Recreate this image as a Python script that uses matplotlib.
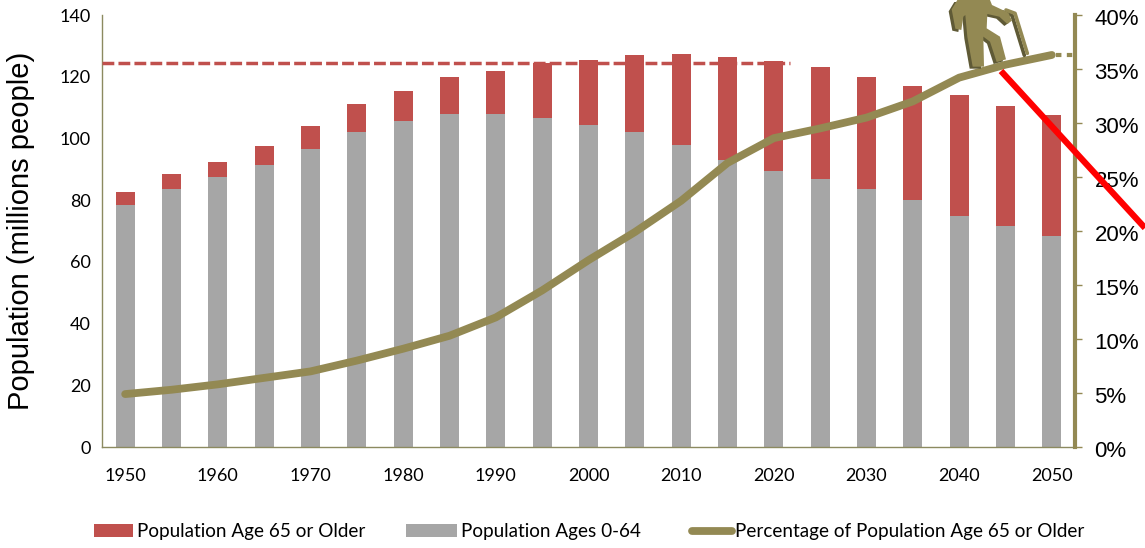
import matplotlib
matplotlib.use("Agg")
import matplotlib.pyplot as plt
from matplotlib.lines import Line2D
from matplotlib.patches import Polygon, Rectangle
from matplotlib.transforms import ScaledTranslation

years = list(range(1950, 2051, 5))
under_65 = [78.5, 83.5, 87.5, 91.5, 96.5, 102, 105.5, 108, 108, 106.5, 104.5,
            102, 98, 93, 89.5, 87, 83.5, 80, 75, 71.5, 68.5]
total = [82.5, 88.5, 92.5, 97.5, 104, 111, 115.5, 120, 122, 124.5, 125.5,
         127, 127.5, 126.5, 125, 123, 120, 117, 114, 110.5, 107.5]
pct_65 = [4.9, 5.3, 5.8, 6.4, 7.0, 8.0, 9.1, 10.3, 12.0, 14.5, 17.3,
          19.9, 22.8, 26.3, 28.6, 29.5, 30.5, 32.0, 34.2, 35.4, 36.3]
over_65 = [t - u for t, u in zip(total, under_65)]
peak_level = 124.5
legend_labels = ["Population Age 65 or Older", "Population Ages 0-64",
                 "Percentage of Population Age 65 or Older"]

RED, GRAY, OLIVE = "#C0504D", "#A6A6A6", "#938953"
SHADOW = "#5F5A36"
W, H = 1145, 548
LAT = ["Lato", "DejaVu Sans"]
ARI = ["Liberation Sans", "DejaVu Sans"]

fig = plt.figure(figsize=(W / 100, H / 100), dpi=100)
ax = fig.add_axes([102 / W, 1 - 447 / H, (1075 - 102) / W, 432 / H])
x = list(range(len(years)))
ax.bar(x, under_65, width=0.41, color=GRAY, zorder=2)
ax.bar(x, over_65, bottom=under_65, width=0.41, color=RED, zorder=2)
ax.set_xlim(-0.5, 20.5)
ax.set_ylim(0, 140)
ax.set_xticks(x[::2])
ax.set_xticklabels(years[::2], family=LAT, fontsize=13)
ax.set_yticks(range(0, 141, 20))
ax.tick_params(axis="x", length=0, pad=15)
ax.tick_params(axis="y", length=0, pad=8, labelsize=13)
for t in ax.get_yticklabels():
    t.set_family(LAT)
for s in ("top", "right"):
    ax.spines[s].set_visible(False)
for s in ("left", "bottom"):
    ax.spines[s].set_color("#8C8A60")
    ax.spines[s].set_linewidth(1)
ax.set_ylabel("Population (millions people)", family=ARI, fontsize=21)
ax.yaxis.set_label_coords(-67 / 973, 0.5)
ax.plot([-0.5, 14.35], [peak_level, peak_level], color=RED, lw=2.5,
        dashes=(3.4, 1.2), zorder=3)

ax2 = ax.twinx()
ax2.set_ylim(0, 40)
ax2.set_yticks(range(0, 41, 5))
ax2.set_yticklabels([f"{v}%" for v in range(0, 41, 5)], family=ARI, fontsize=16)
ax2.tick_params(axis="y", length=5, width=1, color=OLIVE, pad=9, direction="out")
shift = ScaledTranslation(0, -2 / 100, fig.dpi_scale_trans)
for t in ax2.get_yticklabels():
    t.set_transform(t.get_transform() + shift)
for s in ("top", "left", "bottom"):
    ax2.spines[s].set_visible(False)
ax2.spines["right"].set_color(OLIVE)
ax2.spines["right"].set_linewidth(3)
ax2.set_zorder(ax.get_zorder() + 1)
ax2.patch.set_visible(False)
ax2.plot(x, pct_65, color=OLIVE, lw=5.6, solid_capstyle="round", solid_joinstyle="round", zorder=4)
ax2.plot([x[-1] + 0.1, 20.45], [pct_65[-1], pct_65[-1]], color=OLIVE, lw=3,
         dashes=(1.3, 1.3), zorder=4)


def zpx(points, dx=0, dy=0):
    """Points read in the 3x crop whose corner is (900, 0), as figure fractions."""
    return [((900 + a / 3 + dx) / W, 1 - (b / 3 + dy) / H) for a, b in points]


body = [(172, 0), (270, 0), (276, 15), (325, 38), (336, 62), (322, 72), (298, 50),
        (262, 42), (260, 85), (300, 110), (318, 178), (290, 186), (270, 125),
        (250, 110), (252, 200), (218, 200), (202, 110), (196, 45), (190, 50),
        (184, 90), (166, 86), (155, 28)]
cane = [(318, 30), (345, 40), (382, 160)]
for (dx, dy), col, z in (((-3, 2), SHADOW, 6), ((0, 0), OLIVE, 7)):
    fig.add_artist(Polygon(zpx(body, dx, dy), closed=True, facecolor=col, edgecolor="none",
                           transform=fig.transFigure, zorder=z))
    xs, ys = zip(*zpx(cane, dx, dy))
    fig.add_artist(Line2D(xs, ys, color=col, lw=2.6, solid_capstyle="round",
                          solid_joinstyle="round", zorder=z))

fig.add_artist(Line2D([1001 / W, 1], [1 - 71 / H, 1 - 228 / H], color="#FF0000", lw=4.5,
                      solid_capstyle="butt", zorder=8))

for lab, col, x0, x1 in zip(legend_labels, (RED, GRAY, None), (94, 406, 689), (137, 461, 735)):
    if col:
        fig.add_artist(Rectangle((x0 / W, 1 - 537 / H), (x1 - 4 - x0) / W, 13 / H,
                                 transform=fig.transFigure, facecolor=col, edgecolor="none"))
    else:
        fig.add_artist(Line2D([(x0 + 3) / W, (x1 - 3) / W], [1 - 531 / H] * 2, color=OLIVE,
                              lw=5.6, solid_capstyle="round"))
    fig.text(x1 / W, 1 - 531 / H, lab, family=LAT, fontsize=13.6, va="center", ha="left")

fig.savefig("out.png", dpi=100)
